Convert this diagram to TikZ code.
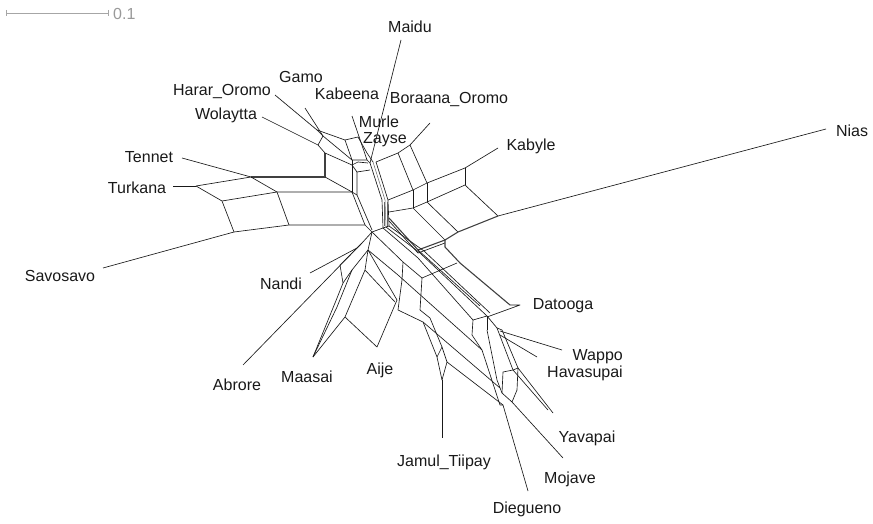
\documentclass[tikz,border=0pt]{standalone}
\usepackage{fontspec}
\setmainfont{Liberation Sans}
\begin{document}
\begin{tikzpicture}[x=1pt,y=-1pt,
  net/.style={line width=0.65pt, black!90, line join=round},
  band/.style={line width=1.1pt, black!75, line join=round},
  strand/.style={line width=0.5pt, black!60},
  lab/.style={font=\fontsize{16}{17}\selectfont, text=black!90, inner sep=0pt},
  scalebar/.style={line width=0.8pt, gray!70}]
\useasboundingbox (0,0) rectangle (873,524);

% scale bar
\draw[scalebar] (6,13) -- (108,13);
\draw[scalebar] (6,10) -- (6,16);
\draw[scalebar] (108,10) -- (108,16);
\node[lab, text=gray!80, anchor=west] (scale) at (113,14) {0.1};

% leaf edges
\draw[net] (401,40) -- (370,163);   % Maidu
\draw[net] (352,116) -- (367,160);  % Kabeena
\draw[net] (305,108) -- (323,136);  % Gamo
\draw[net] (275,95) -- (317,130);   % Harar
\draw[net] (262,117) -- (318,145);  % Wolaytta
\draw[net] (182,158) -- (251,177);  % Tennet
\draw[net] (173,186) -- (196,186);  % Turkana
\draw[net] (103,268) -- (234,232);  % Savosavo
\draw[net] (430,123) -- (410,145);  % Boraana
\draw[net] (498,148) -- (465,168);  % Kabyle
\draw[net] (826,129) -- (498,216);  % Nias
\draw[net] (243,365) -- (362,243);  % Abrore
\draw[net] (310,273) -- (357,248);  % Nandi
\draw[net] (442,380) -- (442,438);  % Jamul
\draw[net] (562,350) -- (500,331);  % Wappo
\draw[net] (537,357) -- (500,335);  % Havasupai
\draw[net] (503,405) -- (528,491);  % Diegueno
\draw[net] (512,402) -- (563,458);  % Mojave
\draw[net] (518,368) -- (553,413);  % Yavapai
\draw[net] (513,370) -- (548,410);

% left boxes
\draw[band] (251,177) -- (325,177) -- (325,153);
\draw[net] (196,186) -- (251,177);
\draw[net] (196,186) -- (222,201) -- (234,232) -- (289,225) -- (365,225) -- (372,232);
\draw[net] (251,177) -- (277,192) -- (289,225);
\draw[net] (222,201) -- (277,192) -- (352,192) -- (365,225);
\draw[net] (325,177) -- (352,192);

% top-left cluster
\draw[net] (317,130) -- (323,136) -- (352,160) -- (367,160) -- (370,163);
\draw[net] (317,130) -- (345,140) -- (358,137) -- (367,153) -- (373,162);
\draw[net] (345,140) -- (352,160);
\draw[net] (318,145) -- (325,153) -- (352,165) -- (358,162) -- (368,163);
\draw[net] (323,136) -- (318,145);
\draw[net] (352,160) -- (352,192);
\draw[net] (352,165) -- (357,172) -- (370,170);
\draw[net] (357,172) -- (357,195) -- (372,230);
\draw[net] (352,192) -- (357,195);

% central strands
\draw[net] (370,163) -- (382,200) -- (383,228);
\draw[strand] (373,162) -- (385,200) -- (386,227);
\draw[net] (376,162) -- (388,200) -- (389,226);
\draw[strand] (384,202) -- (384,226);
\draw[strand] (387,202) -- (387,226);
\draw[net] (372,232) -- (383,228) -- (389,226);

% top-right boxes
\draw[net] (376,162) -- (398,153) -- (410,145);
\draw[net] (398,153) -- (413,190);
\draw[net] (410,145) -- (427,183);
\draw[net] (388,200) -- (413,190) -- (427,183) -- (465,168);
\draw[net] (413,190) -- (413,208);
\draw[net] (427,183) -- (427,202);
\draw[net] (465,168) -- (465,185);
\draw[net] (389,212) -- (413,208) -- (427,202) -- (465,185) -- (498,216);
\draw[net] (427,202) -- (458,232);
\draw[net] (413,208) -- (445,240);
\draw[band] (389,218) -- (418,250) -- (445,240) -- (458,232) -- (498,216);
\draw[net] (389,221) -- (418,253) -- (445,243);

% Datooga branch
\draw[band] (445,240) -- (445,247) -- (460,263) -- (510,305);
\draw[net] (510,305) -- (520,305) -- (487,317);

% lower-centre bands
\draw[net] (372,232) -- (403,262) -- (402,280) -- (398,310);
\draw[net] (403,262) -- (422,278) -- (457,263);
\draw[net] (422,278) -- (420,310);
\draw[net] (383,228) -- (418,258) -- (473,320);
\draw[net] (386,227) -- (420,253) -- (487,316);
\draw[net] (389,226) -- (424,251) -- (490,313);
\draw[net] (418,250) -- (480,306);
\draw[net] (368,250) -- (398,275) -- (482,350);

% Jamul diamond
\draw[net] (398,310) -- (423,322) -- (437,357) -- (442,380);
\draw[net] (420,310) -- (430,318) -- (442,347) -- (447,362) -- (442,380);
\draw[net] (437,357) -- (442,347);
\draw[net] (447,362) -- (503,405);
\draw[net] (423,322) -- (500,388);

% lower-right cluster
\draw[net] (473,320) -- (487,316) -- (497,328) -- (502,330);
\draw[net] (473,320) -- (472,335) -- (482,350) -- (500,405) -- (503,405);
\draw[net] (487,330) -- (497,380) -- (502,393);
\draw[net] (497,328) -- (513,370);
\draw[net] (502,330) -- (518,368);
\draw[net] (503,372) -- (513,370) -- (518,368);
\draw[net] (503,372) -- (502,393) -- (512,402) -- (517,390) -- (518,368);
\draw[net] (487,316) -- (487,330);

% Aije / Maasai fan
\draw[net] (372,232) -- (362,243);
\draw[net] (362,243) -- (340,265) -- (343,283) -- (335,303) -- (313,357);
\draw[net] (372,232) -- (368,250) -- (352,270) -- (337,307) -- (313,357);
\draw[net] (313,357) -- (345,317) -- (365,270) -- (368,250);
\draw[net] (345,317) -- (377,347) -- (397,300) -- (368,250);
\draw[net] (365,270) -- (395,302);
\draw[net] (343,283) -- (352,270);
\draw[net] (362,243) -- (357,248);

% labels
\node[lab] (maidu) at (410,27) {Maidu};
\node[lab] (gamo) at (301,77) {Gamo};
\node[lab] (harar) at (222,92) {Harar\_Oromo};
\node[lab] (kabeena) at (347,94) {Kabeena};
\node[lab] (boraana) at (449,100) {Boraana\_Oromo};
\node[lab] (wolaytta) at (226,115) {Wolaytta};
\node[lab] (murle) at (379,122) {Murle};
\node[lab] (zayse) at (385,140) {Zayse};
\node[lab] (nias) at (852,131) {Nias};
\node[lab] (kabyle) at (531,146) {Kabyle};
\node[lab] (tennet) at (149,157) {Tennet};
\node[lab] (turkana) at (137,188) {Turkana};
\node[lab] (savosavo) at (60,276) {Savosavo};
\node[lab] (nandi) at (281,284) {Nandi};
\node[lab] (datooga) at (563,306) {Datooga};
\node[lab, anchor=east] (wappo) at (623,357) {Wappo};
\node[lab, anchor=east] (havasupai) at (623,373) {Havasupai};
\node[lab] (abrore) at (237,385) {Abrore};
\node[lab] (maasai) at (307,377) {Maasai};
\node[lab] (aije) at (380,370) {Aije};
\node[lab] (yavapai) at (587,438) {Yavapai};
\node[lab] (jamul) at (444,462) {Jamul\_Tiipay};
\node[lab] (mojave) at (570,479) {Mojave};
\node[lab] (diegueno) at (527,509) {Diegueno};
\end{tikzpicture}
\end{document}
